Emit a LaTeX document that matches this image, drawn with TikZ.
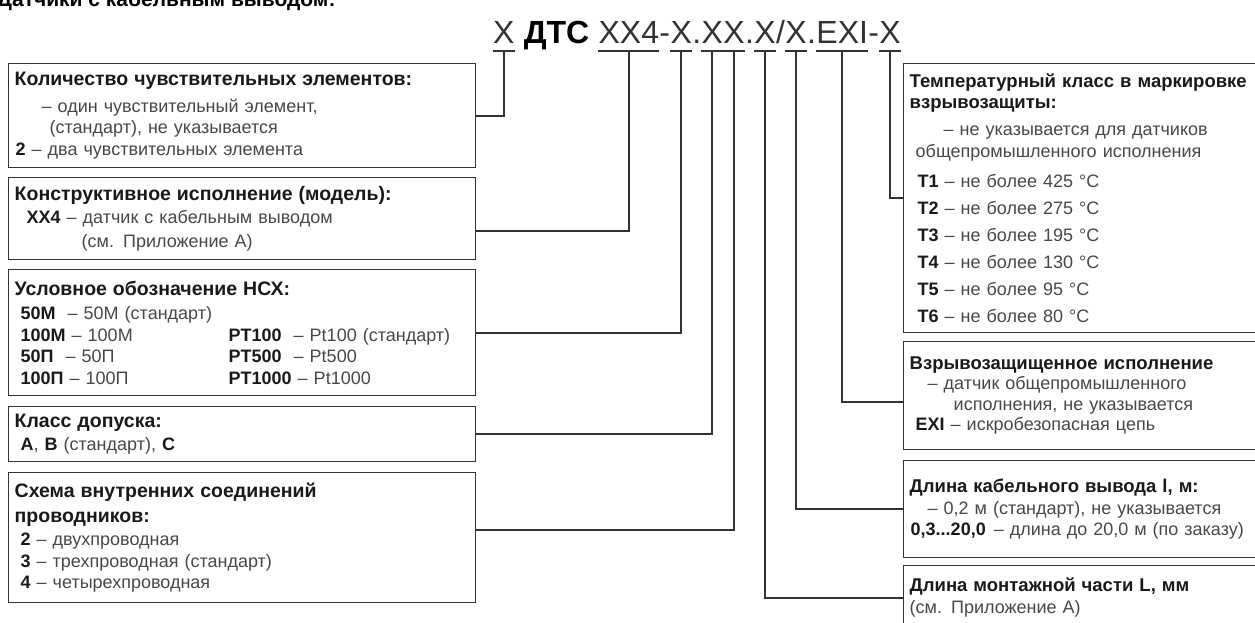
\documentclass[tikz,border=0pt]{standalone}
\usepackage{fontspec}
\setmainfont{Liberation Sans}
\usepackage{tikz}
\usetikzlibrary{positioning}

\newcommand{\hd}{\fontsize{19.5}{22}\selectfont\bfseries\color{black!90}}
\newcommand{\hdr}{\fontsize{18.5}{22}\selectfont\bfseries\color{black!90}}
\newcommand{\kw}[1]{\textbf{\color{black!90}#1}}

\begin{document}
\begin{tikzpicture}[x=1pt, y=-1pt,
  infobox/.style={draw=black!80, line width=1.4pt, inner xsep=6pt, inner ysep=3pt,
    align=left, anchor=north west, text=black!72,
    font=\fontsize{18}{21.5}\selectfont},
  codeseg/.style={inner sep=0pt, anchor=base west, text height=23pt, text depth=8pt,
    text=black!80, font=\fontsize{32}{36}\selectfont},
  link/.style={draw=black!80, line width=1.6pt}]
  \useasboundingbox (0,0) rectangle (1255,622);

  % Cut-off title line
  \node[inner sep=0pt, anchor=base west, font=\fontsize{21}{24}\selectfont\bfseries] (title) at (-3,6) {Датчики с кабельным выводом:};

  % Header code
  \node[codeseg] (cX) at (493,43) {X};
  \node[codeseg, text=black, font=\fontsize{32}{36}\selectfont\bfseries] (cDTS) at ([xshift=8.9pt]cX.base east) {ДТС};
  \node[codeseg] (cMdl) at ([xshift=8.9pt]cDTS.base east) {XX4};
  \node[codeseg] (hA) at (cMdl.base east) {-};
  \node[codeseg] (cNsx) at (hA.base east) {X};
  \node[codeseg] (dA) at (cNsx.base east) {.};
  \node[codeseg] (cCls) at (dA.base east) {X};
  \node[codeseg] (cSch) at (cCls.base east) {X};
  \node[codeseg] (dB) at (cSch.base east) {.};
  \node[codeseg] (cLm) at (dB.base east) {X};
  \node[codeseg] (sl) at (cLm.base east) {/};
  \node[codeseg] (cLc) at (sl.base east) {X};
  \node[codeseg] (dC) at (cLc.base east) {.};
  \node[codeseg] (cEx) at (dC.base east) {EXI};
  \node[codeseg] (hB) at (cEx.base east) {-};
  \node[codeseg] (cT) at (hB.base east) {X};
  \foreach \n in {cX,cMdl,cNsx,cCls,cSch,cLm,cLc,cEx,cT} {
    \draw[link] (\n.south west) -- (\n.south east);
  }

  % Left boxes
  \node[infobox, text width=455pt, minimum height=104pt] (cnt) at (8,63) {%
    {\hd Количество чувствительных элементов:}\\[5pt]
    \hspace*{27pt}– один чувствительный элемент,\\
    \hspace*{35pt}(стандарт), не указывается\\
    \hspace*{1pt}\kw{2} – два чувствительных элемента};
  \node[infobox, text width=455pt, minimum height=82pt] (mdl) at (8,177) {%
    {\hd Конструктивное исполнение (модель):}\\[2pt]
    \hspace*{12pt}\kw{XX4} – датчик с кабельным выводом\\[2pt]
    \hspace*{67pt}(см. Приложение А)};
  \node[infobox, text width=455pt, minimum height=126pt] (nsx) at (8,269) {%
    {\hd Условное обозначение НСХ:}\\[3pt]
    \hspace*{6pt}\kw{50М}\hspace{12pt}– 50М (стандарт)\\
    \hspace*{6pt}\makebox[208pt][l]{\kw{100М} – 100М}\kw{PT100}\hspace{12pt}– Pt100 (стандарт)\\
    \hspace*{6pt}\makebox[208pt][l]{\kw{50П}\hspace{12pt}– 50П}\kw{PT500}\hspace{12pt}– Pt500\\
    \hspace*{6pt}\makebox[208pt][l]{\kw{100П} – 100П}\kw{PT1000} – Pt1000};
  \node[infobox, text width=455pt, minimum height=55pt] (cls) at (8,406) {%
    {\hd Класс допуска:}\\[1.5pt]
    \hspace*{6pt}\kw{А}, \kw{В} (стандарт), \kw{С}};
  \node[infobox, text width=455pt, minimum height=130pt] (sch) at (8,472) {%
    {\hd Схема внутренних соединений}\\[3pt]
    {\hd проводников:}\\[2pt]
    \hspace*{6pt}\kw{2} – двухпроводная\\
    \hspace*{6pt}\kw{3} – трехпроводная (стандарт)\\
    \hspace*{6pt}\kw{4} – четырехпроводная};

  % Right boxes
  \node[infobox, text width=360pt, minimum height=269pt] (tcl) at (903,63) {%
    {\hdr Температурный класс в маркировке}\\[-0.5pt]
    {\hdr взрывозащиты:}\\[5.5pt]
    \hspace*{34pt}– не указывается для датчиков\\[0.5pt]
    \hspace*{6pt}общепромышленного исполнения\\[8pt]
    \hspace*{8pt}\kw{T1} – не более 425 °C\\[5.5pt]
    \hspace*{8pt}\kw{T2} – не более 275 °C\\[5.5pt]
    \hspace*{8pt}\kw{T3} – не более 195 °C\\[5.5pt]
    \hspace*{8pt}\kw{T4} – не более 130 °C\\[5.5pt]
    \hspace*{8pt}\kw{T5} – не более 95 °C\\[5.5pt]
    \hspace*{8pt}\kw{T6} – не более 80 °C};
  \node[infobox, text width=360pt, minimum height=108pt] (exi) at (903,341) {%
    {\hdr Взрывозащищенное исполнение}\\[-1pt]
    \hspace*{18pt}– датчик общепромышленного\\[-1pt]
    \hspace*{44pt}исполнения, не указывается\\[-1pt]
    \hspace*{6pt}\kw{EXI} – искробезопасная цепь};
  \node[infobox, text width=360pt, minimum height=97pt] (cbl) at (903,460) {%
    {\hdr Длина кабельного вывода l, м:}\\
    \hspace*{18pt}– 0,2 м (стандарт), не указывается\\
    \hspace*{1pt}\kw{0,3...20,0}\hspace{8pt}– длина до 20,0 м (по заказу)};
  \node[infobox, text width=360pt, minimum height=64pt] (mnt) at (903,565) {%
    {\hdr Длина монтажной части L, мм}\\
    (см. Приложение А)};

  % Connectors
  \coordinate (mdlPin) at ([yshift=-12pt]mdl.east);
  \coordinate (schPin) at ([yshift=8pt]sch.east);
  \coordinate (exiPin) at ([yshift=-6pt]exi.west);
  \draw[link] (cX.south) |- (cnt.east);
  \draw[link] (cMdl.south) |- (mdlPin);
  \draw[link] (cNsx.south) |- (nsx.east);
  \draw[link] (cCls.south) |- (cls.east);
  \draw[link] (cSch.south) |- (schPin);
  \draw[link] (cLm.south) |- (mnt.west);
  \draw[link] (cLc.south) |- (cbl.west);
  \draw[link] (cEx.south) |- (exiPin);
  \draw[link] (cT.south) |- (tcl.west);
\end{tikzpicture}
\end{document}
